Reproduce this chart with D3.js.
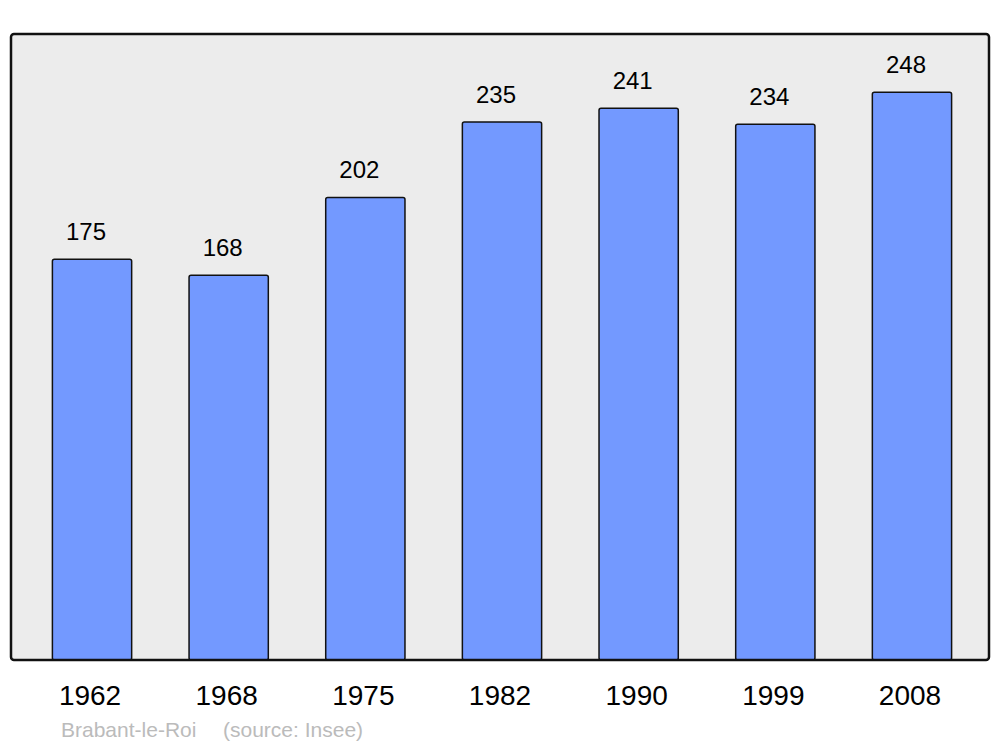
<!DOCTYPE html>
<html>
<head>
<meta charset="utf-8">
<script src="https://cdn.jsdelivr.net/npm/d3@7"></script>
<style>
  body { margin: 0; background: #fff; }
  text { font-family: "Liberation Sans", Arial, sans-serif; }
</style>
</head>
<body>
<div id="chart"></div>
<script>
// population by census year
var years = ["1962", "1968", "1975", "1982", "1990", "1999", "2008"];
var population = [175, 168, 202, 235, 241, 234, 248];
var place = "Brabant-le-Roi";
var source = "(source: Insee)";

var width = 1000, height = 747;
var frame = { left: 11, right: 989, top: 34, bottom: 660 };

var svg = d3.select("#chart")
  .append("svg")
  .attr("width", width)
  .attr("height", height);

// plot background
svg.append("rect")
  .attr("x", frame.left)
  .attr("y", frame.top)
  .attr("width", frame.right - frame.left)
  .attr("height", frame.bottom - frame.top)
  .attr("rx", 3)
  .style("fill", "#ececec")
  .style("stroke", "none");

var x = d3.scaleBand()
  .domain(years)
  .range([23.7, 980.3])
  .paddingInner(0.42)
  .paddingOuter(0.21);

var y = d3.scaleLinear()
  .domain([0, 273.4])
  .range([frame.bottom, frame.top]);

var data = years.map(function (yr, i) { return { year: yr, value: population[i] }; });

// bars
svg.append("g")
  .selectAll("rect")
  .data(data)
  .enter()
  .append("rect")
  .attr("x", function (d) { return x(d.year); })
  .attr("y", function (d) { return y(d.value); })
  .attr("width", x.bandwidth())
  .attr("height", function (d) { return y(0) - y(d.value); })
  .attr("rx", 2)
  .style("fill", "#7399ff")
  .style("stroke", "#111")
  .style("stroke-width", 1.5);

// value labels
svg.append("g")
  .selectAll("text")
  .data(data)
  .enter()
  .append("text")
  .attr("x", function (d) { return x(d.year) + x.bandwidth() / 2 - 6; })
  .attr("y", function (d) { return y(d.value) - 19; })
  .attr("text-anchor", "middle")
  .style("font-size", "24px")
  .style("fill", "#000")
  .text(function (d) { return d.value; });

// frame border on top of bars
svg.append("rect")
  .attr("x", frame.left)
  .attr("y", frame.top)
  .attr("width", frame.right - frame.left)
  .attr("height", frame.bottom - frame.top)
  .attr("rx", 3)
  .style("fill", "none")
  .style("stroke", "#111")
  .style("stroke-width", 2.5);

// year labels
var xAxis = svg.append("g")
  .attr("transform", "translate(0," + frame.bottom + ")")
  .call(d3.axisBottom(x).tickSize(0).tickPadding(0));
xAxis.select(".domain").remove();
xAxis.selectAll("text")
  .attr("y", 45)
  .attr("dy", null)
  .attr("dx", -2)
  .style("font-family", "'Liberation Sans', Arial, sans-serif")
  .style("font-size", "28px")
  .style("fill", "#000");

// footer
svg.append("text")
  .attr("x", 61)
  .attr("y", 737)
  .style("font-size", "21px")
  .style("fill", "#bbbbbb")
  .text(place);
svg.append("text")
  .attr("x", 223)
  .attr("y", 737)
  .style("font-size", "21px")
  .style("fill", "#bbbbbb")
  .text(source);
</script>
</body>
</html>
